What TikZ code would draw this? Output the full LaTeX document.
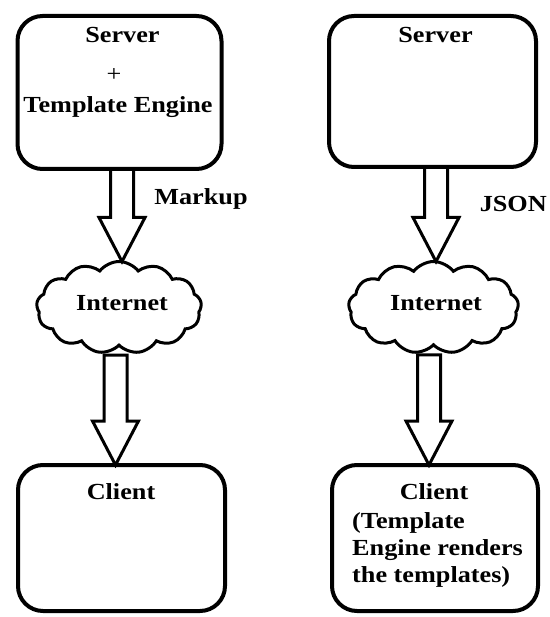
\documentclass[tikz,border=0pt]{standalone}
\usepackage{fontspec}
\setmainfont{Liberation Serif}[FakeStretch=1.14]
\usetikzlibrary{calc,shapes.symbols}
\tikzset{
  boxnode/.style={draw,line width=4pt,rounded corners=25pt,inner sep=0pt,outer sep=0pt},
  cloudnode/.style={draw,line width=3pt,cloud,cloud puffs=13,cloud puff arc=105,cloud ignores aspect,inner sep=0pt,outer sep=0pt},
  barr/.style={draw,line width=3pt,line join=miter},
  lbl/.style={inner sep=0pt,font=\fontsize{23}{27}\selectfont\bfseries},
}
\newcommand{\barrow}[2]{%
  \draw[barr] ($(#1)+(-11.5,0)$) -- ($(#2)+(-11.5,-44)$) -- ($(#2)+(-23,-44)$) -- (#2)
    -- ($(#2)+(23,-44)$) -- ($(#2)+(11.5,-44)$) -- ($(#1)+(11.5,0)$) -- cycle;}
\begin{document}
\begin{tikzpicture}[x=1pt,y=-1pt]
\useasboundingbox (0,0) rectangle (549,617);
% boxes and clouds
\node[boxnode,minimum width=204pt,minimum height=153pt] (s1) at (119.5,92.5) {};
\node[boxnode,minimum width=207pt,minimum height=151pt] (s2) at (432.5,91.5) {};
\node[cloudnode,minimum width=165pt,minimum height=92pt] (cl1) at (119,307.5) {};
\node[cloudnode,minimum width=170pt,minimum height=92pt] (cl2) at (433.5,307.5) {};
\node[boxnode,minimum width=207pt,minimum height=146pt] (c1) at (121.5,538) {};
\node[boxnode,minimum width=206pt,minimum height=146pt] (c2) at (435,538) {};
% arrow coordinates
\coordinate (a1top) at ($(s1.south)+(2.5,0)$);
\coordinate (a1tip) at (a1top |- cl1.north);
\coordinate (a2top) at ($(cl1.south)+(-3.5,10)$);
\coordinate (a2tip) at (a2top |- c1.north);
\coordinate (b1top) at ($(s2.south)+(3.5,0)$);
\coordinate (b1tip) at (b1top |- cl2.north);
\coordinate (b2top) at ($(cl2.south)+(-4.5,10)$);
\coordinate (b2tip) at (b2top |- c2.north);
\barrow{a1top}{a1tip}
\barrow{a2top}{a2tip}
\barrow{b1top}{b1tip}
\barrow{b2top}{b2tip}
% texts
\node[lbl,anchor=base] (t1) at (122.5,43) {Server};
\node[lbl,anchor=center] (t2) at (114,75) {\mdseries +};
\node[lbl,anchor=base] (t3) at (118,113) {Template Engine};
\node[lbl,anchor=base] (t4) at (435.5,43) {Server};
\node[lbl,anchor=base] (t5) at (201,205) {Markup};
\node[lbl,anchor=base east] (t6) at (547,212) {JSON};
\node[lbl,anchor=base] (t7) at (122,310) {Internet};
\node[lbl,anchor=base] (t8) at (436,310) {Internet};
\node[lbl,anchor=base] (t9) at (121,499) {Client};
\node[lbl,anchor=base] (t10) at (434,499) {Client};
\node[lbl,anchor=base west] (t11) at (352,528) {(Template};
\node[lbl,anchor=base west] (t12) at (352,555) {Engine renders};
\node[lbl,anchor=base west] (t13) at (352,582) {the templates)};
\end{tikzpicture}
\end{document}
